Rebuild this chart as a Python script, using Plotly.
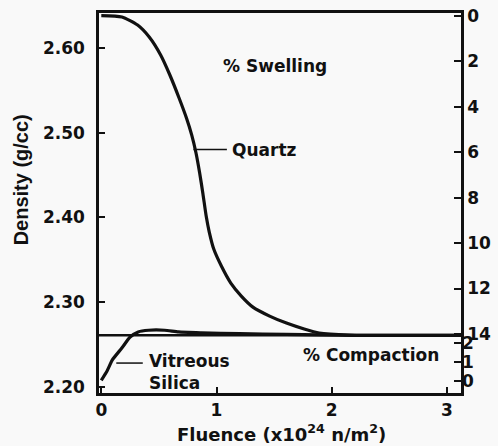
import plotly.graph_objects as go

# ---- data ----
quartz_x = [0, 0.179, 0.315, 0.416, 0.515, 0.595, 0.675, 0.739, 0.785, 0.822, 0.853, 0.882,
            0.911, 0.937, 0.976, 1.042, 1.124, 1.215, 1.316, 1.461, 1.607, 1.761, 1.891,
            2.15, 2.5, 3.12]
quartz_y = [2.638, 2.6363, 2.6268, 2.6127, 2.5915, 2.5679, 2.5408, 2.5172, 2.4970, 2.4760,
            2.4530, 2.4280, 2.4010, 2.3827, 2.3627, 2.3427, 2.3226, 2.3073, 2.2943, 2.2837,
            2.2754, 2.2684, 2.2637, 2.2613, 2.261, 2.261]

vitreous_x = [0, 0.05, 0.096, 0.178, 0.25, 0.32, 0.41, 0.55, 0.67, 0.87, 1.2, 1.6, 2.2, 3.12]
vitreous_y = [2.208, 2.219, 2.232, 2.246, 2.259, 2.265, 2.267, 2.267, 2.265, 2.264, 2.263,
              2.262, 2.261, 2.261]

separator_density = 2.261

x_ticks = [0, 1, 2, 3]
density_ticks = [2.20, 2.30, 2.40, 2.50, 2.60]
swelling_ticks = [0, 2, 4, 6, 8, 10, 12, 14]
compaction_ticks = [0, 1, 2]

INK = "#111111"
FONT = "DejaVu Sans"

fig = go.Figure()
fig.add_trace(go.Scatter(x=quartz_x, y=quartz_y, mode="lines",
                         line=dict(color=INK, width=3.2, shape="spline", smoothing=0.6),
                         showlegend=False, hoverinfo="skip"))
fig.add_trace(go.Scatter(x=vitreous_x, y=vitreous_y, mode="lines",
                         line=dict(color=INK, width=3.2, shape="spline", smoothing=0.5),
                         showlegend=False, hoverinfo="skip"))
fig.add_trace(go.Scatter(x=[None], y=[None], yaxis="y2", showlegend=False))
fig.add_trace(go.Scatter(x=[None], y=[None], yaxis="y3", showlegend=False))

tickfont = dict(family=FONT, size=17, color=INK, weight="bold")

fig.update_layout(
    width=498, height=446,
    margin=dict(l=99, r=37, t=13, b=53),
    paper_bgcolor="#f9f9f9", plot_bgcolor="#f9f9f9",
    xaxis=dict(range=[-0.02, 3.122], tickvals=x_ticks, ticks="inside", ticklen=6,
               tickwidth=2, tickcolor=INK, showline=True, linewidth=2.5, linecolor=INK,
               mirror=True, showgrid=False, zeroline=False, tickfont=tickfont,
               automargin=False),
    yaxis=dict(range=[2.193, 2.641], tickvals=density_ticks, tickformat=".2f",
               ticks="inside", ticklen=6, tickwidth=2, tickcolor=INK, showline=True,
               linewidth=2.5, linecolor=INK, showgrid=False, zeroline=False,
               tickfont=tickfont, ticklabelstandoff=8, automargin=False),
    yaxis2=dict(range=[16.6, -0.13], overlaying="y", side="right", anchor="x",
                tickvals=swelling_ticks, ticks="inside", ticklen=7, tickwidth=2,
                tickcolor=INK, showline=True, linewidth=2.5, linecolor=INK,
                showgrid=False, zeroline=False, tickfont=tickfont, automargin=False),
    yaxis3=dict(range=[-0.63, 19.37], overlaying="y", side="right", anchor="x",
                tickvals=compaction_ticks, ticks="inside", ticklen=7, tickwidth=2,
                tickcolor=INK, showline=False, showgrid=False, zeroline=False,
                tickfont=tickfont, automargin=False),
)

fig.add_shape(type="line", xref="paper", x0=0, x1=1, yref="y",
              y0=separator_density, y1=separator_density, line=dict(color=INK, width=2.6))
# pointer lines
fig.add_shape(type="line", xref="x", yref="y", x0=0.80, x1=1.09, y0=2.48, y1=2.48,
              line=dict(color=INK, width=1.5))
fig.add_shape(type="line", xref="x", yref="y", x0=0.13, x1=0.36, y0=2.2283, y1=2.2283,
              line=dict(color=INK, width=1.5))

lab = dict(family=FONT, size=17, color=INK, weight="bold")
fig.add_annotation(x=1.51, y=2.5785, xref="x", yref="y", text="% Swelling",
                   showarrow=False, font=lab, xanchor="center", yanchor="middle")
fig.add_annotation(x=1.115, y=2.48, xref="x", yref="y", text="Quartz",
                   showarrow=False, font=lab, xanchor="left", yanchor="middle")
fig.add_annotation(x=0.40, y=2.2177, xref="x", yref="y", text="Vitreous<br>Silica",
                   align="left", showarrow=False, font=lab, xanchor="left",
                   yanchor="middle")
fig.add_annotation(x=2.345, y=2.2377, xref="x", yref="y", text="% Compaction",
                   showarrow=False, font=lab, xanchor="center", yanchor="middle")

# axis titles
fig.add_annotation(x=-0.215, y=0.56, xref="paper", yref="paper", text="Density (g/cc)",
                   textangle=-90, showarrow=False, xanchor="center", yanchor="middle",
                   font=dict(family="Liberation Sans", size=20, color=INK, weight="bold"))
fig.add_annotation(x=0.504, y=-0.105, xref="paper", yref="paper",
                   text="Fluence (x10<sup>24</sup> n/m<sup>2</sup>)",
                   showarrow=False, xanchor="center", yanchor="middle",
                   font=dict(family=FONT, size=18, color=INK, weight="bold"))

fig.write_html(
    "out.html",
    config={"displayModeBar": False},
    post_script="document.body.style.margin='0';document.body.style.overflow='hidden';",
)
